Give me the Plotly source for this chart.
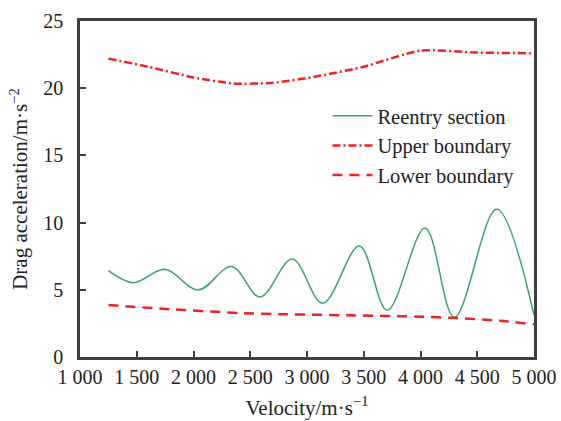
import plotly.graph_objects as go

# Reentry section drag acceleration vs velocity (turning points of the oscillation)
reentry_v = [1250, 1470, 1749, 2042, 2336, 2586, 2870, 3138, 3461, 3707, 4040, 4298, 4671, 5000]
reentry_a = [6.42, 5.53, 6.52, 4.99, 6.73, 4.47, 7.29, 4.00, 8.26, 3.47, 9.60, 2.95, 11.0, 3.10]

# Upper boundary
upper_v = [1250, 1600, 2000, 2350, 2700, 3100, 3500, 4000, 4500, 5000]
upper_a = [22.2, 21.6, 20.8, 20.35, 20.4, 20.9, 21.6, 22.8, 22.65, 22.6]

# Lower boundary
lower_v = [1250, 1800, 2400, 2800, 3400, 4000, 4300, 4700, 5000]
lower_a = [3.87, 3.55, 3.27, 3.18, 3.1, 3.0, 2.9, 2.7, 2.43]

x_ticks = [1000, 1500, 2000, 2500, 3000, 3500, 4000, 4500, 5000]
x_ticktext = ["1 000", "1 500", "2 000", "2 500", "3 000", "3 500", "4 000", "4 500", "5 000"]
y_ticks = [0, 5, 10, 15, 20, 25]

FONT = "Liberation Serif"
TEXT_COLOR = "#222222"
AXIS_COLOR = "#3f3f3f"

fig = go.Figure()
fig.add_trace(go.Scatter(
    x=reentry_v, y=reentry_a, mode="lines", name="Reentry section",
    line=dict(color="#3aa56b", width=1.5, shape="spline", smoothing=1.0),
))
fig.add_trace(go.Scatter(
    x=upper_v, y=upper_a, mode="lines", name="Upper boundary",
    line=dict(color="#ee2222", width=2.5, dash="8px,3px,2px,3px", shape="spline", smoothing=0.6),
))
fig.add_trace(go.Scatter(
    x=lower_v, y=lower_a, mode="lines", name="Lower boundary",
    line=dict(color="#ee2222", width=2.5, dash="10px,7px", shape="spline", smoothing=0.6),
))

fig.update_layout(
    width=561, height=421,
    margin=dict(l=80, r=27, t=21, b=64, autoexpand=False),
    paper_bgcolor="white", plot_bgcolor="white",
    font=dict(family=FONT, size=20, color=TEXT_COLOR),
    showlegend=True,
    legend=dict(
        x=0.545, y=0.777, xanchor="left", yanchor="top",
        bgcolor="rgba(0,0,0,0)", font=dict(size=20.5, family=FONT, color=TEXT_COLOR),
        itemwidth=40, tracegroupgap=0,
    ),
    xaxis=dict(
        range=[1000, 5000], tickvals=x_ticks, ticktext=x_ticktext,
        ticks="inside", ticklen=6, tickwidth=2, tickcolor=AXIS_COLOR,
        showline=True, linecolor=AXIS_COLOR, linewidth=2.5, mirror=True,
        showgrid=False, zeroline=False, automargin=False,
        title=dict(text="Velocity/m·s<sup>−1</sup>", standoff=14,
                   font=dict(size=21, family=FONT, color=TEXT_COLOR)),
        tickfont=dict(size=20, family=FONT, color=TEXT_COLOR),
    ),
    yaxis=dict(
        range=[0, 25], tickvals=y_ticks,
        ticks="inside", ticklen=6, tickwidth=2, tickcolor=AXIS_COLOR,
        showline=True, linecolor=AXIS_COLOR, linewidth=2.5, mirror=True,
        showgrid=False, zeroline=False, automargin=False,
        title=dict(text="Drag acceleration/m·s<sup>−2</sup>", standoff=10,
                   font=dict(size=21, family=FONT, color=TEXT_COLOR)),
        tickfont=dict(size=20, family=FONT, color=TEXT_COLOR), ticklabelstandoff=10,
    ),
)

fig.write_html("out.html")
